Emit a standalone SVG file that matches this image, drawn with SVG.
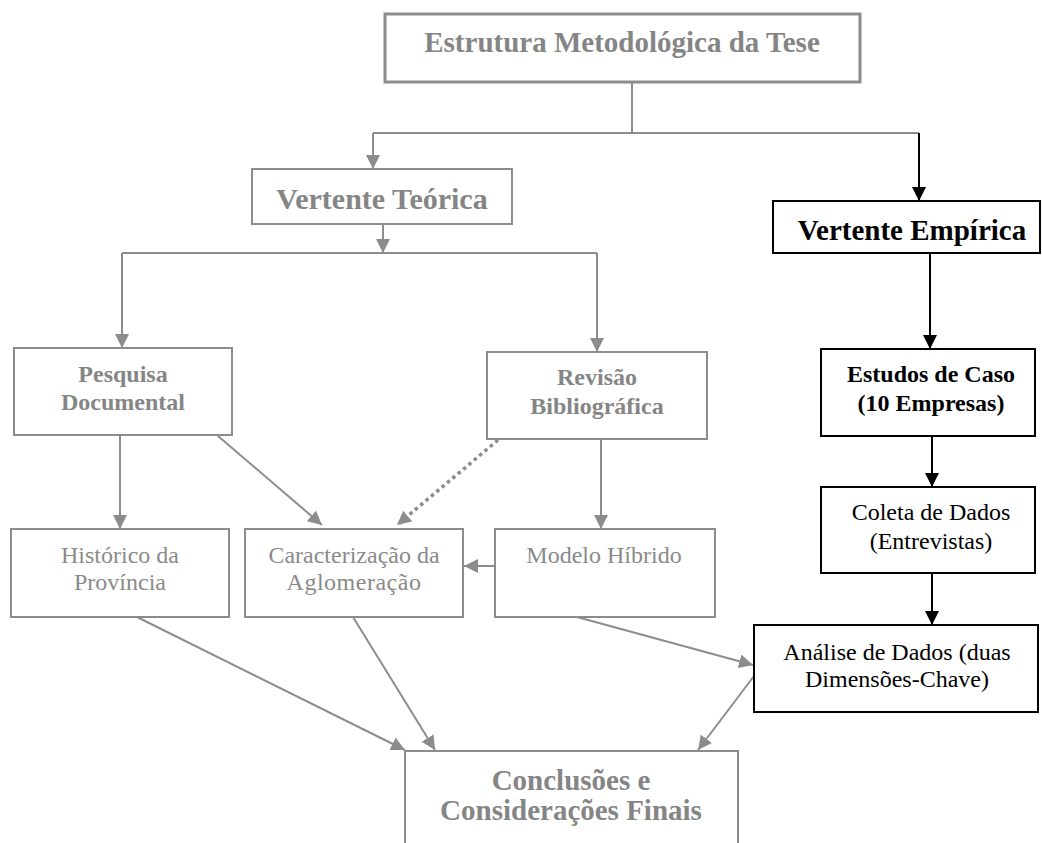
<svg xmlns="http://www.w3.org/2000/svg" width="1042" height="843" viewBox="0 0 1042 843">
<defs>
<style>
.gbox{fill:#fff;stroke:#8c8c8c;stroke-width:2}
.bbox{fill:#fff;stroke:#000;stroke-width:2}
.t{font-family:"Liberation Serif","Times New Roman",serif;text-anchor:middle}
.gb{fill:#858585;font-weight:bold}
.gr{fill:#8a8a8a}
.bb{fill:#000;font-weight:bold}
.br{fill:#000}
.gl{fill:none;stroke:#8c8c8c;stroke-width:2}
.bl{fill:none;stroke:#000;stroke-width:2}
.dot{fill:none;stroke:#8c8c8c;stroke-width:3.5;stroke-dasharray:3.5 3.5}
</style>
<marker id="ag" markerUnits="userSpaceOnUse" markerWidth="15" markerHeight="15" refX="14" refY="7" orient="auto"><path d="M0,0 L14,7 L0,14 z" fill="#8c8c8c"/></marker>
<marker id="ab" markerUnits="userSpaceOnUse" markerWidth="15" markerHeight="15" refX="14" refY="7" orient="auto"><path d="M0,0 L14,7 L0,14 z" fill="#000"/></marker>
</defs>
<rect width="1042" height="843" fill="#fff"/>
<g id="connectors">
<path class="gl" d="M632,82 V133 M373,133 H919"/>
<path class="gl" d="M373,133 V169" marker-end="url(#ag)"/>
<path class="bl" d="M919,133 V201" marker-end="url(#ab)"/>
<path class="gl" d="M383,224 V253" marker-end="url(#ag)"/>
<path class="gl" d="M122,253 H597"/>
<path class="gl" d="M122,253 V348" marker-end="url(#ag)"/>
<path class="gl" d="M597,253 V352" marker-end="url(#ag)"/>
<path class="gl" d="M120,435 V529" marker-end="url(#ag)"/>
<path class="gl" d="M218,436 L322,525" marker-end="url(#ag)"/>
<path class="dot" d="M498,440 L397,525" marker-end="url(#ag)"/>
<path class="gl" d="M601,439 V529" marker-end="url(#ag)"/>
<path class="gl" d="M495,566 H464" marker-end="url(#ag)"/>
<path class="gl" d="M137,617 L405,750" marker-end="url(#ag)"/>
<path class="gl" d="M353,617 L435,750" marker-end="url(#ag)"/>
<path class="gl" d="M577,617 L753,665" marker-end="url(#ag)"/>
<path class="gl" d="M754,676 L698,750" marker-end="url(#ag)"/>
<path class="bl" d="M930,253 V349" marker-end="url(#ab)"/>
<path class="bl" d="M932,436 V487" marker-end="url(#ab)"/>
<path class="bl" d="M932,573 V625" marker-end="url(#ab)"/>
</g>
<g id="n-estrutura">
<rect x="385" y="14" width="475" height="68" fill="#fff" stroke="#8c8c8c" stroke-width="3"/>
<text class="t gb" x="622" y="52" font-size="29">Estrutura Metodológica da Tese</text>
</g>
<g id="n-teorica">
<rect class="gbox" x="252" y="169" width="260" height="55"/>
<text class="t gb" x="382" y="209" font-size="30">Vertente Teórica</text>
</g>
<g id="n-empirica">
<rect class="bbox" x="773" y="201" width="267" height="52"/>
<text class="t bb" x="912" y="240" font-size="29">Vertente Empírica</text>
</g>
<g id="n-pesquisa">
<rect class="gbox" x="14" y="348" width="218" height="87"/>
<text class="t gb" x="123" y="382" font-size="24">Pesquisa</text>
<text class="t gb" x="123" y="410" font-size="24">Documental</text>
</g>
<g id="n-revisao">
<rect class="gbox" x="487" y="352" width="220" height="87"/>
<text class="t gb" x="597" y="385" font-size="24">Revisão</text>
<text class="t gb" x="597" y="414" font-size="24">Bibliográfica</text>
</g>
<g id="n-estudos">
<rect class="bbox" x="821" y="349" width="214" height="87"/>
<text class="t bb" x="931" y="382" font-size="24">Estudos de Caso</text>
<text class="t bb" x="931" y="411" font-size="24">(10 Empresas)</text>
</g>
<g id="n-coleta">
<rect class="bbox" x="821" y="487" width="214" height="86"/>
<text class="t br" x="931" y="520" font-size="24">Coleta de Dados</text>
<text class="t br" x="931" y="549" font-size="24">(Entrevistas)</text>
</g>
<g id="n-historico">
<rect class="gbox" x="11" y="529" width="218" height="88"/>
<text class="t gr" x="120" y="563" font-size="24">Histórico da</text>
<text class="t gr" x="120" y="590" font-size="24">Província</text>
</g>
<g id="n-caracterizacao">
<rect class="gbox" x="245" y="529" width="218" height="88"/>
<text class="t gr" x="354" y="563" font-size="24">Caracterização da</text>
<text class="t gr" x="354" y="590" font-size="24" letter-spacing="0.5">Aglomeração</text>
</g>
<g id="n-modelo">
<rect class="gbox" x="495" y="529" width="220" height="88"/>
<text class="t gr" x="604" y="563" font-size="24">Modelo Híbrido</text>
</g>
<g id="n-analise">
<rect class="bbox" x="754" y="625" width="284" height="87"/>
<text class="t br" x="897" y="660" font-size="24">Análise de Dados (duas</text>
<text class="t br" x="897" y="687" font-size="24">Dimensões-Chave)</text>
</g>
<g id="n-conclusoes">
<rect class="gbox" x="405" y="751" width="333" height="110"/>
<text class="t gb" x="571" y="790" font-size="29">Conclusões e</text>
<text class="t gb" x="571" y="820" font-size="29">Considerações Finais</text>
</g>
</svg>
